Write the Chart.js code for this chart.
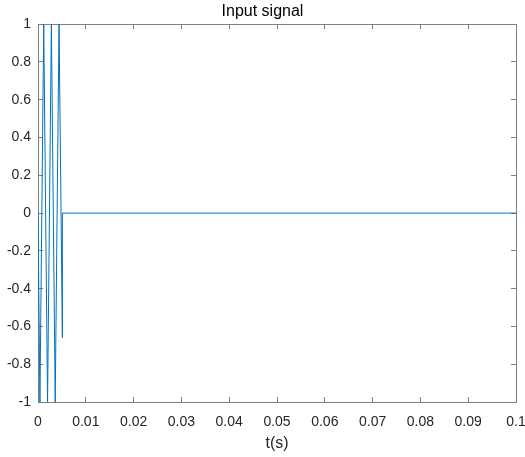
<!DOCTYPE html>
<html>
<head>
<meta charset="utf-8">
<script src="https://cdn.jsdelivr.net/npm/chart.js@4.4.1/dist/chart.umd.min.js"></script>
<style>
  html, body { margin: 0; padding: 0; background: #fff; }
  #wrap { width: 525px; height: 457px; }
</style>
</head>
<body>
<div id="wrap"><canvas id="myChart" width="525" height="457"></canvas></div>
<script>
// signal vertices (t in seconds, amplitude)
const tValues = [0, 0.0004, 0.0012, 0.002, 0.0028, 0.0036, 0.0044, 0.0051, 0.0051, 0.1];
const signalValues = [0, -1, 1, -1, 1, -1, 1, -0.66, 0, 0];

const xTicks = [0, 0.01, 0.02, 0.03, 0.04, 0.05, 0.06, 0.07, 0.08, 0.09, 0.1];
const xTickLabels = ['0', '0.01', '0.02', '0.03', '0.04', '0.05', '0.06', '0.07', '0.08', '0.09', '0.1'];
const yTicks = [-1, -0.8, -0.6, -0.4, -0.2, 0, 0.2, 0.4, 0.6, 0.8, 1];
const yTickLabels = ['-1', '-0.8', '-0.6', '-0.4', '-0.2', '0', '0.2', '0.4', '0.6', '0.8', '1'];

const axisColor = '#808080';
const textColor = '#262626';
const fontFamily = 'Arial, "Liberation Sans", Helvetica, sans-serif';

// MATLAB style: box on all four sides, ticks pointing inward
const boxGrid = { drawOnChartArea: false, drawTicks: true, tickLength: -5, color: axisColor, lineWidth: 1 };
const boxBorder = { display: true, color: axisColor, width: 1 };

new Chart(document.getElementById('myChart'), {
  type: 'scatter',
  data: {
    datasets: [{
      label: 'Input signal',
      data: tValues.map((t, i) => ({ x: t, y: signalValues[i] })),
      showLine: true,
      borderColor: '#0072BD',
      borderWidth: 1,
      pointRadius: 0,
      fill: false,
      tension: 0
    }]
  },
  options: {
    responsive: false,
    animation: false,
    layout: { padding: 0 },
    plugins: {
      legend: { display: false },
      tooltip: { enabled: false },
      title: {
        display: true,
        text: 'Input signal',
        color: '#000',
        font: { family: fontFamily, size: 16, weight: 'normal' },
        padding: { top: 2, bottom: 3 }
      }
    },
    scales: {
      x: {
        type: 'linear',
        position: 'bottom',
        min: 0,
        max: 0.1,
        afterBuildTicks: s => { s.ticks = xTicks.map(v => ({ value: v })); },
        afterFit: s => { s.height = 55; s.paddingLeft = 0; s.paddingRight = 9; },
        grid: boxGrid,
        border: boxBorder,
        ticks: {
          color: textColor,
          padding: 17,
          maxRotation: 0,
          font: { family: fontFamily, size: 14 },
          callback: (v, i) => xTickLabels[i]
        },
        title: {
          display: true,
          text: 't(s)',
          color: textColor,
          font: { family: fontFamily, size: 16 },
          padding: { top: 4, bottom: 4 }
        }
      },
      x2: {
        type: 'linear',
        position: 'top',
        min: 0,
        max: 0.1,
        afterBuildTicks: s => { s.ticks = xTicks.map(v => ({ value: v })); },
        afterFit: s => { s.height = 0; s.paddingLeft = 0; s.paddingRight = 0; },
        grid: boxGrid,
        border: boxBorder,
        ticks: { display: false }
      },
      y: {
        type: 'linear',
        position: 'left',
        min: -1,
        max: 1,
        afterBuildTicks: s => { s.ticks = yTicks.map(v => ({ value: v })); },
        afterFit: s => { s.width = 38; },
        grid: boxGrid,
        border: boxBorder,
        ticks: {
          color: textColor,
          padding: 12,
          font: { family: fontFamily, size: 14 },
          callback: (v, i) => yTickLabels[i]
        }
      },
      y2: {
        type: 'linear',
        position: 'right',
        min: -1,
        max: 1,
        afterBuildTicks: s => { s.ticks = yTicks.map(v => ({ value: v })); },
        afterFit: s => { s.width = 0; },
        grid: boxGrid,
        border: boxBorder,
        ticks: { display: false }
      }
    }
  }
});
</script>
</body>
</html>
